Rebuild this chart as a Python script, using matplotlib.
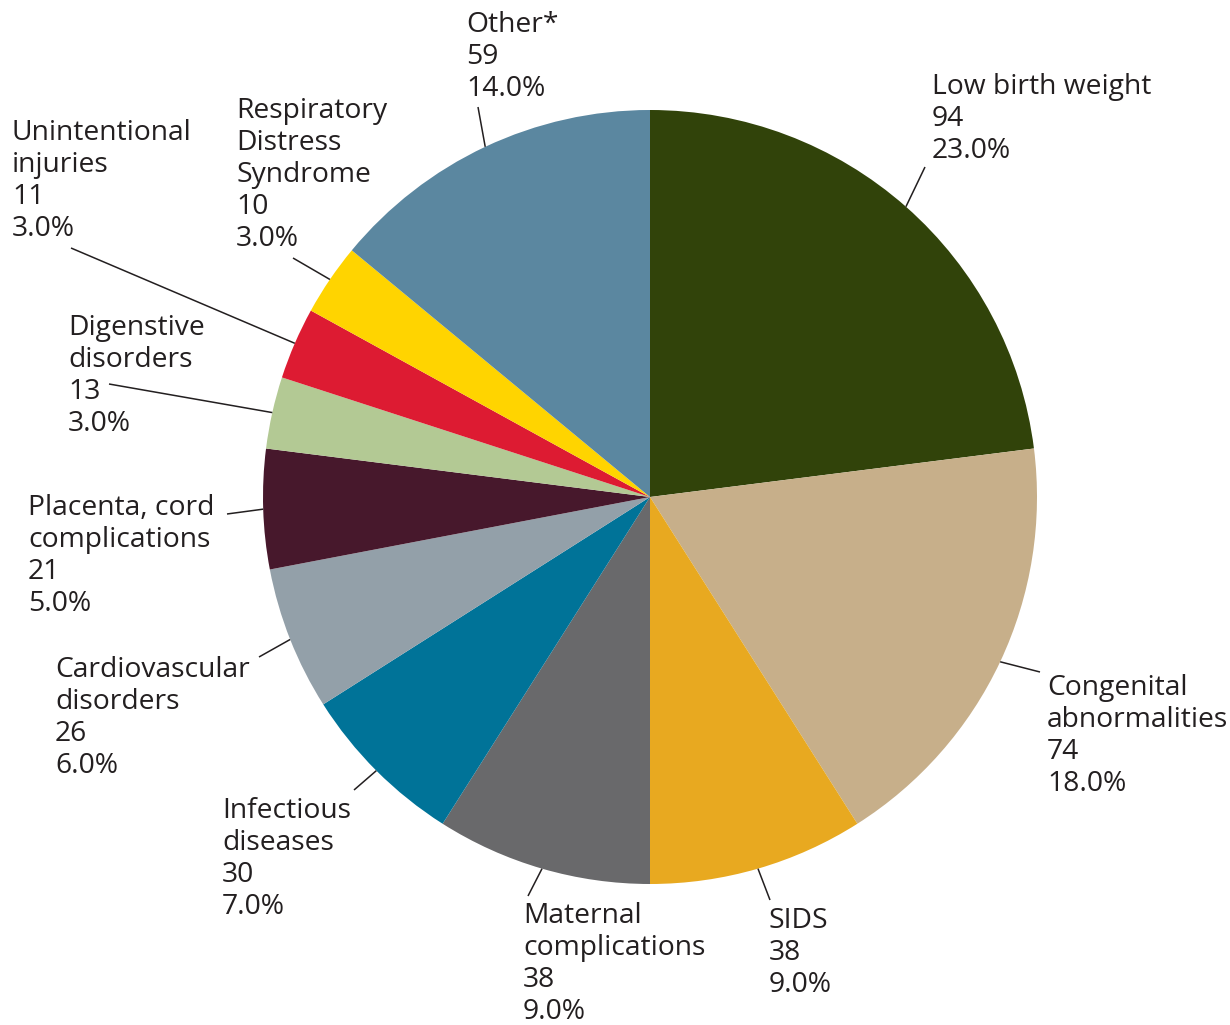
import matplotlib
matplotlib.use("Agg")
import matplotlib.pyplot as plt
import numpy as np

# ---- data ----
categories = ["Low birth weight", "Congenital\nabnormalities", "SIDS",
              "Maternal\ncomplications", "Infectious\ndiseases",
              "Cardiovascular\ndisorders", "Placenta, cord\ncomplications",
              "Digenstive\ndisorders", "Unintentional\ninjuries",
              "Respiratory\nDistress\nSyndrome", "Other*"]
counts = [94, 74, 38, 38, 30, 26, 21, 13, 11, 10, 59]
percents = [23.0, 18.0, 9.0, 9.0, 7.0, 6.0, 5.0, 3.0, 3.0, 3.0, 14.0]
colors = ["#31430A", "#C7AF8A", "#E8A920", "#69696B", "#007398", "#93A0A9",
          "#47182C", "#B3C994", "#DD1B32", "#FFD400", "#5B87A0"]

# ---- layout (pixel coords, image y downward) ----
W, H = 1230, 1025
cx, cy, R = 650, 497, 387
text_pos = [(932, 73), (1047, 674), (769, 907), (523, 902), (222, 797),
            (55, 656), (28, 494), (68, 314), (12, 119), (236, 97), (466, 11)]
leader_end = [(925, 167), (1040, 672), (770, 900), (528, 896), (354, 790),
              (259, 657), (227, 514), (109, 384), (71, 248), (293, 258), (478, 107)]

fig = plt.figure(figsize=(W / 100, H / 100), dpi=100)
ax = fig.add_axes([0, 0, 1, 1])

wedges, _ = ax.pie(percents, colors=colors, startangle=90, counterclock=False,
                   center=(cx, H - cy), radius=R, frame=True,
                   wedgeprops=dict(linewidth=0))
ax.set_xlim(0, W)
ax.set_ylim(0, H)
ax.set_aspect("equal")
ax.axis("off")

txtcol = "#231F20"
for w, cat, n, p, (tx, ty), (lx, ly) in zip(wedges, categories, counts, percents,
                                             text_pos, leader_end):
    mid = np.deg2rad((w.theta1 + w.theta2) / 2)
    sx = cx + R * np.cos(mid)
    sy = (H - cy) + R * np.sin(mid)
    ax.plot([sx, lx], [sy, H - ly], color="#231F20", lw=1.1, solid_capstyle="butt")
    ax.text(tx, H - ty, f"{cat}\n{n}\n{p:.1f}%", ha="left", va="top", fontsize=20.3,
            family="Open Sans", color=txtcol, linespacing=1.19)

fig.savefig("out.png", dpi=100)
